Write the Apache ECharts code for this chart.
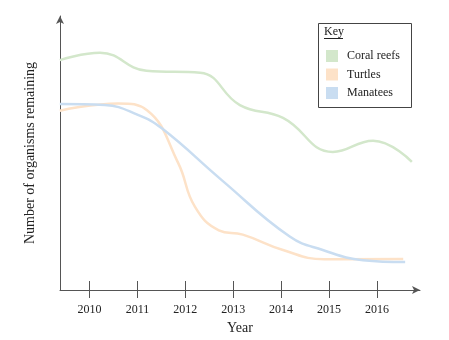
<!DOCTYPE html>
<html>
<head>
<meta charset="utf-8">
<script src="https://cdn.jsdelivr.net/npm/echarts@6/dist/echarts.min.js"></script>
<style>
  html, body { margin: 0; padding: 0; background: #fff; }
  #chart { width: 449px; height: 340px; }
</style>
</head>
<body>
<div id="chart"></div>
<script>
// Year tick labels
const years = [2010, 2011, 2012, 2013, 2014, 2015, 2016];

// Sampled points along each trend: [year, relative number remaining]
const coralReefs = [
  [2009.38, 83.9], [2010.22, 86.6], [2011.19, 80.0], [2012.31, 79.3],
  [2013.14, 67.5], [2014.04, 62.8], [2015.08, 50.4], [2015.92, 54.5], [2016.73, 46.8]
];
const turtles = [
  [2009.38, 65.4], [2010.6, 68.1], [2011.2, 65.6], [2011.85, 46.4], [2012.2, 30.4],
  [2012.7, 21.8], [2013.2, 20.2], [2014.04, 14.6], [2014.9, 11.2], [2016.55, 11.3]
];
const manatees = [
  [2009.38, 67.9], [2010.32, 67.5], [2011.01, 63.9], [2011.51, 59.0],
  [2012.76, 40.1], [2014.18, 19.5], [2014.87, 14.6], [2015.71, 10.9], [2016.59, 10.2]
];

const seriesNames = ['Coral reefs', 'Turtles', 'Manatees'];
const seriesColors = ['#d3e7cb', '#fde2c8', '#c9ddf1'];

const FONT = '"Liberation Serif", "DejaVu Serif", serif';
const AXIS_COLOR = '#555';

const chart = echarts.init(document.getElementById('chart'), null, { renderer: 'canvas' });

function lineSeries(name, data, color) {
  return {
    name: name,
    type: 'line',
    data: data,
    smooth: 0.45,
    showSymbol: false,
    symbol: 'none',
    lineStyle: { color: color, width: 2.5 },
    itemStyle: { color: color },
    xAxisIndex: 0,
    yAxisIndex: 0
  };
}

const xRange = { min: 2009.384, max: 2016.9 };

chart.setOption({
  animation: false,
  backgroundColor: '#ffffff',
  textStyle: { fontFamily: FONT },
  grid: { left: 60, right: 29, top: 16, bottom: 50 },
  xAxis: [
    {
      type: 'value',
      min: xRange.min,
      max: xRange.max,
      name: 'Year',
      nameLocation: 'middle',
      nameGap: 31,
      nameTextStyle: { fontFamily: FONT, fontSize: 14, color: '#222' },
      axisLine: {
        show: true,
        lineStyle: { color: AXIS_COLOR, width: 1 },
        symbol: ['none', 'arrow'],
        symbolSize: [6, 8]
      },
      axisTick: { show: true, length: 8, customValues: years, lineStyle: { color: AXIS_COLOR } },
      axisLabel: {
        customValues: years,
        margin: 14,
        fontFamily: FONT,
        fontSize: 12,
        color: '#222',
        formatter: v => String(Math.round(v))
      },
      splitLine: { show: false }
    },
    {
      // upper half of each crossing tick mark
      type: 'value',
      position: 'bottom',
      gridIndex: 0,
      min: xRange.min,
      max: xRange.max,
      axisLine: { show: false },
      axisTick: { show: true, inside: true, length: 9, customValues: years, lineStyle: { color: AXIS_COLOR } },
      axisLabel: { show: false },
      splitLine: { show: false }
    }
  ],
  yAxis: {
    type: 'value',
    min: 0,
    max: 100,
    name: 'Number of organisms remaining',
    nameLocation: 'middle',
    nameGap: 23,
    nameTextStyle: { fontFamily: FONT, fontSize: 14, color: '#222' },
    axisLine: {
      show: true,
      lineStyle: { color: AXIS_COLOR, width: 1 },
      symbol: ['none', 'arrow'],
      symbolSize: [6, 8]
    },
    axisTick: { show: false },
    axisLabel: { show: false },
    splitLine: { show: false }
  },
  legend: {
    left: 324,
    top: 48,
    orient: 'vertical',
    icon: 'rect',
    itemWidth: 12,
    itemHeight: 12,
    itemGap: 6.5,
    padding: 2,
    data: seriesNames,
    textStyle: { fontFamily: FONT, fontSize: 12, color: '#222', padding: [0, 0, 0, 4] }
  },
  graphic: [
    {
      type: 'rect',
      shape: { x: 318.5, y: 23.5, width: 93, height: 84 },
      style: { fill: 'none', stroke: '#444', lineWidth: 1 },
      silent: true
    },
    {
      type: 'text',
      left: 324,
      top: 26,
      style: { text: 'Key', font: '12px ' + FONT, fill: '#222' },
      silent: true
    },
    {
      type: 'line',
      shape: { x1: 324, y1: 38.5, x2: 343, y2: 38.5 },
      style: { stroke: '#222', lineWidth: 1 },
      silent: true
    }
  ],
  series: [
    lineSeries(seriesNames[0], coralReefs, seriesColors[0]),
    lineSeries(seriesNames[1], turtles, seriesColors[1]),
    lineSeries(seriesNames[2], manatees, seriesColors[2])
  ]
});
</script>
</body>
</html>
